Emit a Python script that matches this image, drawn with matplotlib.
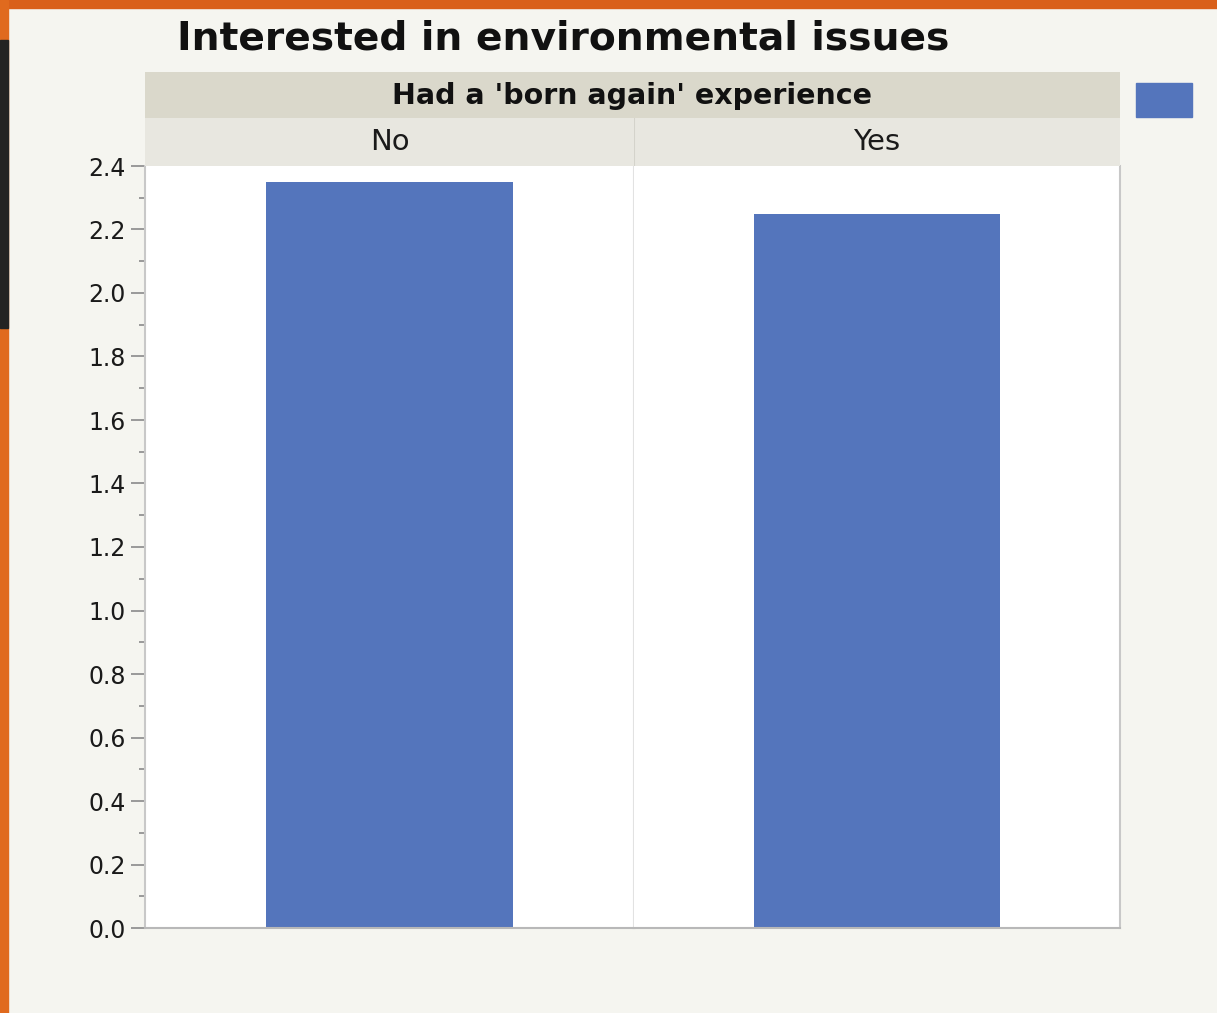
import matplotlib
matplotlib.use("Agg")
import matplotlib.pyplot as plt
from matplotlib.patches import Rectangle
from matplotlib.ticker import MultipleLocator

# Data
title = "Interested in environmental issues"
facet_title = "Had a 'born again' experience"
categories = ["No", "Yes"]
values = [2.35, 2.25]
yticks = [0.0, 0.2, 0.4, 0.6, 0.8, 1.0, 1.2, 1.4, 1.6, 1.8, 2.0, 2.2, 2.4]

BAR = "#5475BC"
BG = "#F5F5F0"
STRIP1 = "#DAD8CB"
STRIP2 = "#E8E7E0"

W, H = 1217, 1013
fig = plt.figure(figsize=(W / 100, H / 100), dpi=100)
fig.patch.set_facecolor(BG)

def fx(px):
    return px / W

def fy(py):
    return 1 - py / H

# Frame decorations (orange border, dark strip)
fig.add_artist(Rectangle((0, fy(8)), 1, 8 / H, transform=fig.transFigure, color="#D9601A", zorder=0))
fig.add_artist(Rectangle((0, 0), 8 / W, 1, transform=fig.transFigure, color="#E06A1E", zorder=0))
fig.add_artist(Rectangle((0, fy(328)), 8 / W, (328 - 40) / H, transform=fig.transFigure, color="#232323", zorder=0))

left, right = 145, 1120
mid = 634
top, bottom = 166, 928

axes = []
for i, cat in enumerate(categories):
    x0 = left if i == 0 else mid
    x1 = mid if i == 0 else right
    ax = fig.add_axes([fx(x0), fy(bottom), fx(x1) - fx(x0), fy(top) - fy(bottom)])
    ax.set_facecolor("white")
    ax.bar([0], [values[i]], width=0.507, color=BAR, zorder=2)
    ax.set_xlim(-0.5, 0.5)
    ax.set_ylim(0, 2.4)
    ax.set_xticks([])
    ax.spines["top"].set_visible(False)
    ax.spines["bottom"].set_color("#B8B8B8")
    ax.spines["bottom"].set_linewidth(1.5)
    ax.spines["left"].set_color("#C8C8C8" if i == 0 else "#E2E2E2")
    ax.spines["left"].set_linewidth(1.5)
    ax.spines["right"].set_color("#C8C8C8" if i == 1 else "#E2E2E2")
    ax.spines["right"].set_linewidth(1.5)
    if i == 0:
        ax.set_yticks(yticks)
        ax.set_yticklabels([f"{v:.1f}" for v in yticks], fontsize=17, color="#1A1A1A")
        ax.yaxis.set_minor_locator(MultipleLocator(0.1))
        ax.tick_params(axis="y", which="major", length=10, width=1.2, color="#8A8A8A", pad=4)
        ax.tick_params(axis="y", which="minor", length=4.5, width=1.2, color="#8A8A8A")
    else:
        ax.set_yticks([])
        ax.spines["left"].set_visible(False)
    axes.append(ax)

    # Category strip
    sax = fig.add_axes([fx(x0), fy(top), fx(x1) - fx(x0), fy(118) - fy(top)])
    sax.set_facecolor(STRIP2)
    sax.set_xticks([]); sax.set_yticks([])
    for s in sax.spines.values():
        s.set_visible(False)
    sax.text(0.5, 0.5, cat, ha="center", va="center", fontsize=21, color="#1A1A1A",
             transform=sax.transAxes)
    if i == 1:
        sax.axvline(0, color="#D4D3CB", lw=1.5)

# Facet strip
fax = fig.add_axes([fx(left), fy(118), fx(right) - fx(left), fy(72) - fy(118)])
fax.set_facecolor(STRIP1)
fax.set_xticks([]); fax.set_yticks([])
for s in fax.spines.values():
    s.set_visible(False)
fax.text(0.5, 0.48, facet_title, ha="center", va="center", fontsize=20.5, fontweight="bold",
         color="#111111", transform=fax.transAxes)

# Title
fig.text(fx(563), fy(38), title, ha="center", va="center", fontsize=28.3, fontweight="bold",
         color="#111111")

# Legend swatch
fig.add_artist(Rectangle((fx(1136), fy(117)), (1192 - 1136) / W, (117 - 83) / H,
                         transform=fig.transFigure, color=BAR))

fig.savefig("out.png", dpi=100, facecolor=BG)
